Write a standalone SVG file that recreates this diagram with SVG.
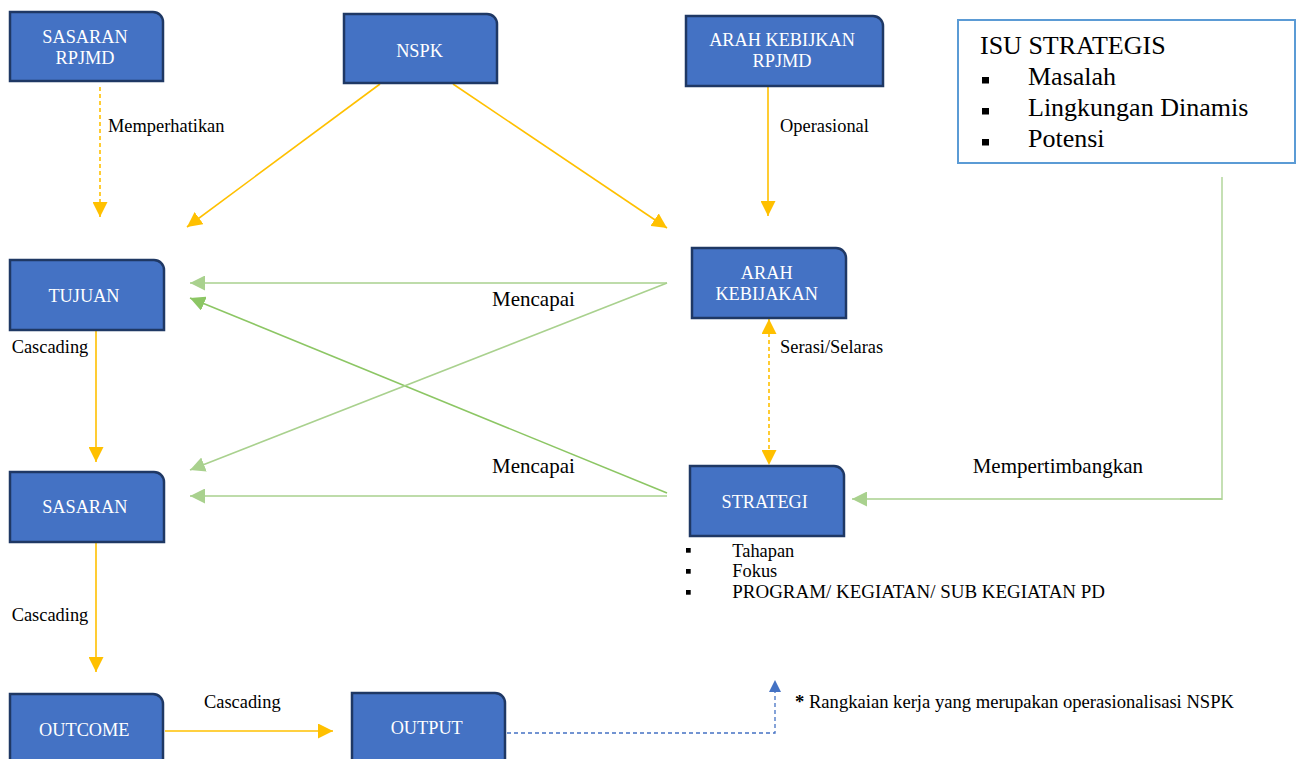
<svg xmlns="http://www.w3.org/2000/svg" width="1296" height="759" viewBox="0 0 1296 759">
<defs>
<style>
.node{fill:#4472C4;stroke:#1F3864;stroke-width:2.5}
.nt{font-size:18.3px;fill:#ffffff;text-anchor:middle}
.lbl{font-size:18.4px;fill:#000}
.lbl21{font-size:21px;fill:#000}
.isu{font-size:26px;fill:#000}
.y{stroke:#FFC000;stroke-width:1.6;fill:none}
.yd{stroke:#FFC000;stroke-width:1.6;fill:none;stroke-dasharray:4 3}
.g{stroke:#A9D18E;stroke-width:1.6;fill:none}
.g2{stroke:#8CC664;stroke-width:1.6;fill:none}
.gv{stroke:#C5E0B4;stroke-width:2;fill:none}
.bd{stroke:#4472C4;stroke-width:1.3;fill:none;stroke-dasharray:4 3}
</style>
<marker id="ayb" viewBox="0 0 10 10" refX="10" refY="5" markerWidth="15" markerHeight="15" markerUnits="userSpaceOnUse" orient="auto-start-reverse"><path d="M0,0 L10,5 L0,10 Z" fill="#FFC000"/></marker>
<marker id="ag" viewBox="0 0 10 10" refX="10" refY="5" markerWidth="15" markerHeight="15" markerUnits="userSpaceOnUse" orient="auto"><path d="M0,0 L10,5 L0,10 Z" fill="#A9D18E"/></marker>
<marker id="ag2" viewBox="0 0 10 10" refX="10" refY="5" markerWidth="15" markerHeight="15" markerUnits="userSpaceOnUse" orient="auto"><path d="M0,0 L10,5 L0,10 Z" fill="#8CC664"/></marker>
<marker id="ab" viewBox="0 0 10 10" refX="10" refY="5" markerWidth="12" markerHeight="12" markerUnits="userSpaceOnUse" orient="auto"><path d="M0,0 L10,5 L0,10 Z" fill="#4472C4"/></marker>
</defs>
<rect width="1296" height="759" fill="#ffffff"/>

<g id="connectors">
<line class="yd" x1="100" y1="87" x2="100" y2="217" marker-end="url(#ayb)"/>
<line class="y" x1="380" y1="84" x2="187" y2="227" marker-end="url(#ayb)"/>
<line class="y" x1="453" y1="84" x2="667" y2="228" marker-end="url(#ayb)"/>
<line class="y" x1="768" y1="86" x2="768" y2="216" marker-end="url(#ayb)"/>
<line class="g" x1="667" y1="283" x2="190" y2="283" marker-end="url(#ag)"/>
<line class="g2" x1="667" y1="493" x2="190" y2="298" marker-end="url(#ag2)"/>
<line class="g" x1="667" y1="283" x2="190" y2="470" marker-end="url(#ag)"/>
<line class="g" x1="667" y1="496" x2="190" y2="496" marker-end="url(#ag)"/>
<line class="y" x1="96" y1="331" x2="96" y2="462" marker-end="url(#ayb)"/>
<line class="yd" x1="769" y1="319" x2="769" y2="465" marker-start="url(#ayb)" marker-end="url(#ayb)"/>
<polyline class="gv" points="1222,177 1222,499 1180,499"/>
<line class="g" x1="1222" y1="499" x2="852" y2="499" marker-end="url(#ag)"/>
<line class="y" x1="96" y1="543" x2="96" y2="672" marker-end="url(#ayb)"/>
<line class="y" x1="165" y1="731" x2="333" y2="731" marker-end="url(#ayb)"/>
<polyline class="bd" points="507,733 775,733 775,680" marker-end="url(#ab)"/>
</g>

<g font-family="'Liberation Serif','Times New Roman','DejaVu Serif',serif">
<g id="n-sasaran-rpjmd">
<path class="node" d="M10,12 H153 A10,10 0 0 1 163,22 V81 H10 Z"/>
<text class="nt" x="85" y="42.5">SASARAN</text>
<text class="nt" x="85" y="64">RPJMD</text>
</g>
<g id="n-nspk">
<path class="node" d="M344,14 H487 A10,10 0 0 1 497,24 V83 H344 Z"/>
<text class="nt" x="419.5" y="57.3">NSPK</text>
</g>
<g id="n-arah-rpjmd">
<path class="node" d="M686,16 H873 A10,10 0 0 1 883,26 V86 H686 Z"/>
<text class="nt" x="782" y="45.7">ARAH KEBIJKAN</text>
<text class="nt" x="782" y="66.7">RPJMD</text>
</g>
<g id="n-isu">
<rect x="958" y="20" width="337" height="143" fill="#ffffff" stroke="#5B9BD5" stroke-width="2"/>
<text class="isu" x="980" y="54.3">ISU STRATEGIS</text>
<rect x="982" y="77" width="7" height="6.5" fill="#000"/>
<text class="isu" x="1028" y="85">Masalah</text>
<rect x="982" y="108" width="7" height="6.5" fill="#000"/>
<text class="isu" x="1028" y="116">Lingkungan Dinamis</text>
<rect x="982" y="139" width="7" height="6.5" fill="#000"/>
<text class="isu" x="1028" y="146.7">Potensi</text>
</g>
<g id="n-tujuan">
<path class="node" d="M10,260 H154 A10,10 0 0 1 164,270 V330 H10 Z"/>
<text class="nt" x="84" y="302.3">TUJUAN</text>
</g>
<g id="n-arah">
<path class="node" d="M692,248 H836 A10,10 0 0 1 846,258 V318 H692 Z"/>
<text class="nt" x="766.7" y="279.3">ARAH</text>
<text class="nt" x="766.7" y="300">KEBIJAKAN</text>
</g>
<g id="n-sasaran">
<path class="node" d="M10,472 H154 A10,10 0 0 1 164,482 V542 H10 Z"/>
<text class="nt" x="84.8" y="513.3">SASARAN</text>
</g>
<g id="n-strategi">
<path class="node" d="M690,466 H834 A10,10 0 0 1 844,476 V536 H690 Z"/>
<text class="nt" x="764.7" y="508.3">STRATEGI</text>
</g>
<g id="n-outcome">
<path class="node" d="M10,694 H153 A10,10 0 0 1 163,704 V770 H10 Z"/>
<text class="nt" x="84.3" y="736">OUTCOME</text>
</g>
<g id="n-output">
<path class="node" d="M352,693 H495 A10,10 0 0 1 505,703 V770 H352 Z"/>
<text class="nt" x="426.7" y="734">OUTPUT</text>
</g>

<g id="labels">
<text class="lbl" x="108" y="131.7">Memperhatikan</text>
<text class="lbl" x="780" y="131.7">Operasional</text>
<text class="lbl21" x="492" y="306">Mencapai</text>
<text class="lbl21" x="492" y="473.3">Mencapai</text>
<text class="lbl" x="11.7" y="353.3">Cascading</text>
<text class="lbl" x="780" y="353.3">Serasi/Selaras</text>
<text class="lbl21" x="972.7" y="473.3">Mempertimbangkan</text>
<text class="lbl" x="11.7" y="620.7">Cascading</text>
<text class="lbl" x="204" y="708.3">Cascading</text>
<text class="lbl" x="795" y="707.7" textLength="439" lengthAdjust="spacingAndGlyphs"><tspan font-weight="bold">*</tspan> Rangkaian kerja yang merupakan operasionalisasi NSPK</text>
<rect x="686" y="548" width="4.7" height="4.7" fill="#000"/>
<text class="lbl" x="732.3" y="556.7">Tahapan</text>
<rect x="686" y="569" width="4.7" height="4.7" fill="#000"/>
<text class="lbl" x="732.3" y="577.3">Fokus</text>
<rect x="686" y="590" width="4.7" height="4.7" fill="#000"/>
<text class="lbl" x="732.3" y="598.3" textLength="372.7" lengthAdjust="spacingAndGlyphs">PROGRAM/ KEGIATAN/ SUB KEGIATAN PD</text>
</g>
</g>
</svg>
